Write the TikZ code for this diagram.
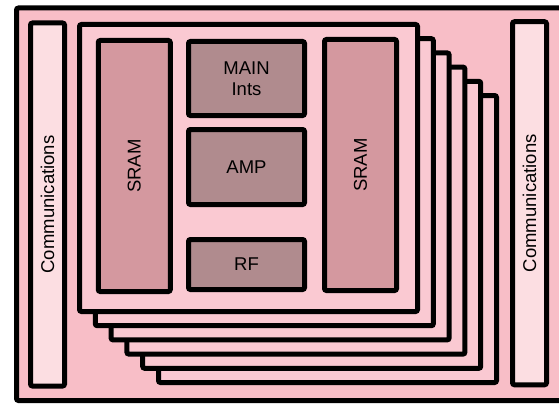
\documentclass[tikz,border=0pt]{standalone}
\usepackage{fontspec}
\setmainfont{Liberation Sans}
\definecolor{chippink}{RGB}{248,190,199}
\definecolor{cardpink}{RGB}{250,201,210}
\definecolor{commpink}{RGB}{252,222,226}
\definecolor{srampink}{RGB}{212,152,159}
\definecolor{unitpink}{RGB}{176,139,142}
\begin{document}
\begin{tikzpicture}[x=1pt, y=-1pt,
  box/.style={draw, line width=5pt, rounded corners=2pt, inner sep=0pt, font=\fontsize{18.5}{21.5}\selectfont, align=center},
  card/.style={box, fill=cardpink, minimum width=338pt, minimum height=287pt},
  comm/.style={box, fill=commpink, rotate=90, minimum width=363pt, minimum height=34pt},
  sram/.style={box, fill=srampink, rotate=90, minimum width=251pt, minimum height=72pt},
  unit/.style={box, fill=unitpink, minimum width=116pt}]
  \useasboundingbox (0,0) rectangle (559,404);
  \clip (0,0) rectangle (559,404);
  \node[box, fill=chippink, minimum width=546.5pt, minimum height=392.5pt] (chip) at (289.75,204.25) {};
  \node[comm] (commL) at (47.5,204.5) {Communications};
  \node[comm] (commR) at (529.5,203.25) {Communications};
  % stacked dies, back to front
  \foreach \k in {5,4,...,0} {
    \node[card] (card\k) at ({248.5+15.8*\k},{168+14.2*\k}) {};
  }
  \node[sram] (sramL) at (134.25,166) {SRAM};
  \node[sram] (sramR) at (360.5,165) {SRAM};
  \node[unit, minimum height=74pt] (main) at (246.5,78.5) {MAIN\\Ints};
  \node[unit, minimum height=75pt] (amp) at (246.5,167) {AMP};
  \node[unit, minimum height=50pt] (rf) at (246.5,264.5) {RF};
\end{tikzpicture}
\end{document}
